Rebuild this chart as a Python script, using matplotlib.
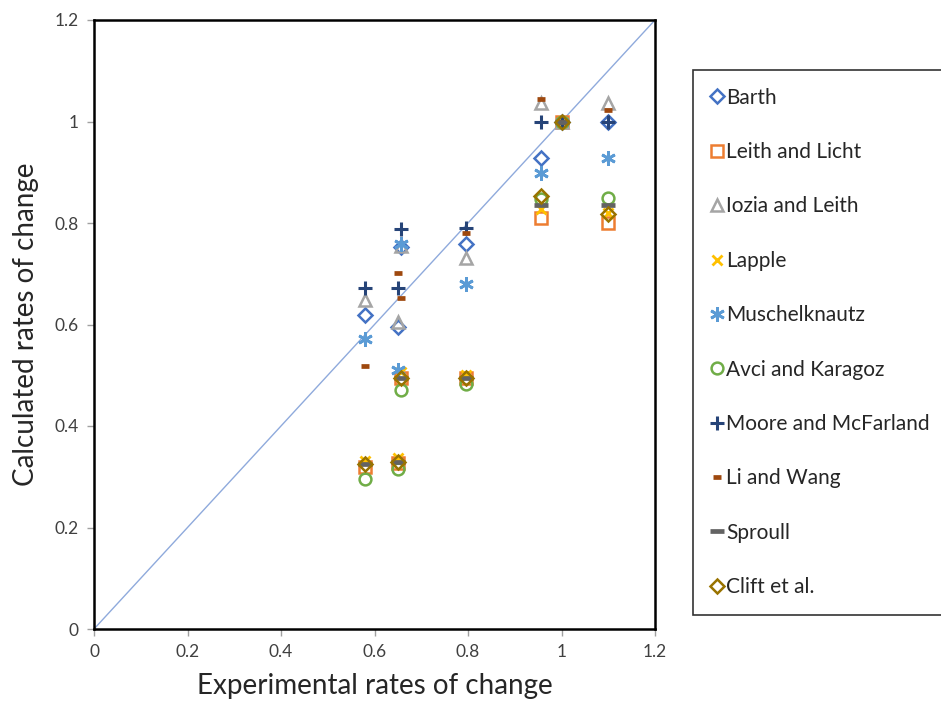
import matplotlib
matplotlib.use("Agg")
import matplotlib.pyplot as plt

plt.rcParams['font.family'] = ['Lato', 'DejaVu Sans']

# Experimental rates of change (x) shared by all models
exp_x = [0.58, 0.651, 0.657, 0.795, 0.957, 1.0, 1.1]

barth      = [0.618, 0.596, 0.752, 0.759, 0.929, 1.0, 1.0]
leith      = [0.320, 0.327, 0.494, 0.494, 0.810, 1.0, 0.800]
iozia      = [0.649, 0.604, 0.755, 0.732, 1.037, 1.0, 1.037]
lapple     = [0.332, 0.336, 0.506, 0.500, 0.828, 1.0, 0.820]
muschel    = [0.571, 0.510, 0.759, 0.679, 0.899, 1.0, 0.929]
avci       = [0.295, 0.315, 0.470, 0.482, 0.848, 1.0, 0.850]
moore      = [0.671, 0.671, 0.789, 0.791, 1.0, 1.0, 1.0]
li_wang    = [0.519, 0.702, 0.653, 0.781, 1.045, 1.0, 1.023]
sproull    = [0.326, 0.330, 0.495, 0.495, 0.836, 1.0, 0.836]
clift      = [0.325, 0.329, 0.494, 0.494, 0.854, 1.0, 0.818]

labels = ["Barth", "Leith and Licht", "Iozia and Leith", "Lapple", "Muschelknautz",
          "Avci and Karagoz", "Moore and McFarland", "Li and Wang", "Sproull", "Clift et al."]
series = [barth, leith, iozia, lapple, muschel, avci, moore, li_wang, sproull, clift]

styles = [
    dict(marker='D', ms=7.5, mfc='none', mec='#4472C4', mew=1.8),
    dict(marker='s', ms=8.5, mfc='none', mec='#ED7D31', mew=1.8),
    dict(marker='^', ms=9, mfc='none', mec='#A5A5A5', mew=1.8),
    dict(marker='x', ms=7.5, mec='#FFC000', mew=2.0),
    dict(marker=(6, 2, 0), ms=10.5, mec='#5B9BD5', mew=2.0),
    dict(marker='o', ms=8.5, mfc='none', mec='#70AD47', mew=1.8),
    dict(marker='+', ms=10, mec='#264478', mew=2.2),
    dict(marker='_', ms=6, mec='#9E480E', mew=3.4),
    dict(marker='_', ms=9.5, mec='#636363', mew=3.4),
    dict(marker='D', ms=7.5, mfc='none', mec='#997300', mew=1.8),
]

fig = plt.figure(figsize=(9.41, 7.08), dpi=100)
ax = fig.add_axes([94/941, (708-629)/708, (655-94)/941, (629-20)/708])

ax.plot([0, 1.2], [0, 1.2], color='#8FAADC', lw=1.0, zorder=1)

handles = []
for lab, ys, st in zip(labels, series, styles):
    h, = ax.plot(exp_x, ys, linestyle='none', label=lab, zorder=3, **st)
    handles.append(h)

ax.set_xlim(0, 1.2)
ax.set_ylim(0, 1.2)
ticks = [0, 0.2, 0.4, 0.6, 0.8, 1, 1.2]
ticklabels = ['0', '0.2', '0.4', '0.6', '0.8', '1', '1.2']
ax.set_xticks(ticks)
ax.set_xticklabels(ticklabels)
ax.set_yticks(ticks)
ax.set_yticklabels(ticklabels)
ax.tick_params(direction='out', length=5, width=1, color='#A0A0A0',
               labelsize=12.5, labelcolor='#404040', pad=6)
for sp in ax.spines.values():
    sp.set_color('black')
    sp.set_linewidth(1.8)

ax.set_xlabel("Experimental rates of change", fontsize=20, color='#262626', labelpad=9)
ax.set_ylabel("Calculated rates of change", fontsize=20, color='#262626', labelpad=11)

leg = fig.legend(handles=handles, labels=labels, loc='upper left',
                 bbox_to_anchor=(693/941, (708-70)/708), fontsize=15,
                 frameon=True, fancybox=False, edgecolor='black',
                 labelspacing=1.65, handlelength=0.6, handletextpad=0.15,
                 borderpad=0.85, borderaxespad=0)
leg.get_frame().set_linewidth(1.2)
for t in leg.get_texts():
    t.set_color('#262626')

fig.savefig("out.png", dpi=100)
